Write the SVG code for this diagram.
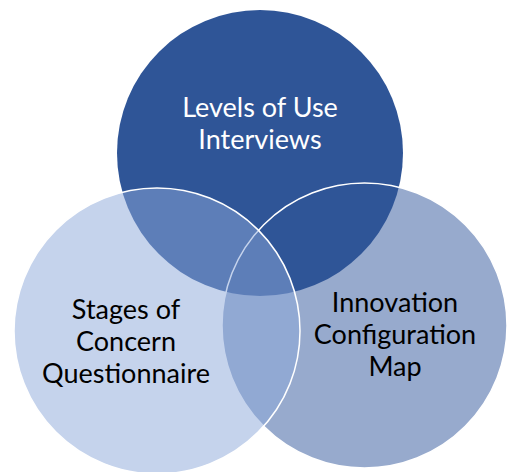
<svg xmlns="http://www.w3.org/2000/svg" width="508" height="472" viewBox="0 0 508 472">
  <style>
    .lbl { font-family: Lato, "Liberation Sans", sans-serif; font-size: 27px; text-anchor: middle; }
    .dark { fill: #ffffff; }
    .ink { fill: #000000; }
    .ring { fill: none; stroke: #ffffff; stroke-width: 1.5; }
  </style>
  <rect width="508" height="472" fill="#ffffff"/>

  <!-- right circle: Innovation Configuration Map -->
  <g id="node-icm">
    <circle cx="364.5" cy="325.5" r="142.5" fill="#97AACD"/>
  </g>

  <!-- top circle: Levels of Use Interviews -->
  <g id="node-lou">
    <circle cx="260" cy="153" r="143" fill="#2F5597"/>
    <text class="lbl dark" x="260" y="117">Levels of Use</text>
    <text class="lbl dark" x="260" y="149">Interviews</text>
  </g>

  <!-- outline of right circle, shown over the top circle -->
  <circle class="ring" cx="364.5" cy="325.5" r="142.5"/>

  <!-- left circle: Stages of Concern Questionnaire (half transparent) -->
  <g id="node-soc">
    <circle cx="157" cy="331" r="143" fill="#8BA7D9" fill-opacity="0.5"/>
    <circle class="ring" cx="157" cy="331" r="143"/>
    <text class="lbl ink" x="126" y="319">Stages of</text>
    <text class="lbl ink" x="126" y="351">Concern</text>
    <text class="lbl ink" x="126" y="383">Questionnaire</text>
  </g>

  <g id="icm-label">
    <text class="lbl ink" x="395" y="312">Innovation</text>
    <text class="lbl ink" x="395" y="344">Configuration</text>
    <text class="lbl ink" x="395" y="376">Map</text>
  </g>
</svg>
